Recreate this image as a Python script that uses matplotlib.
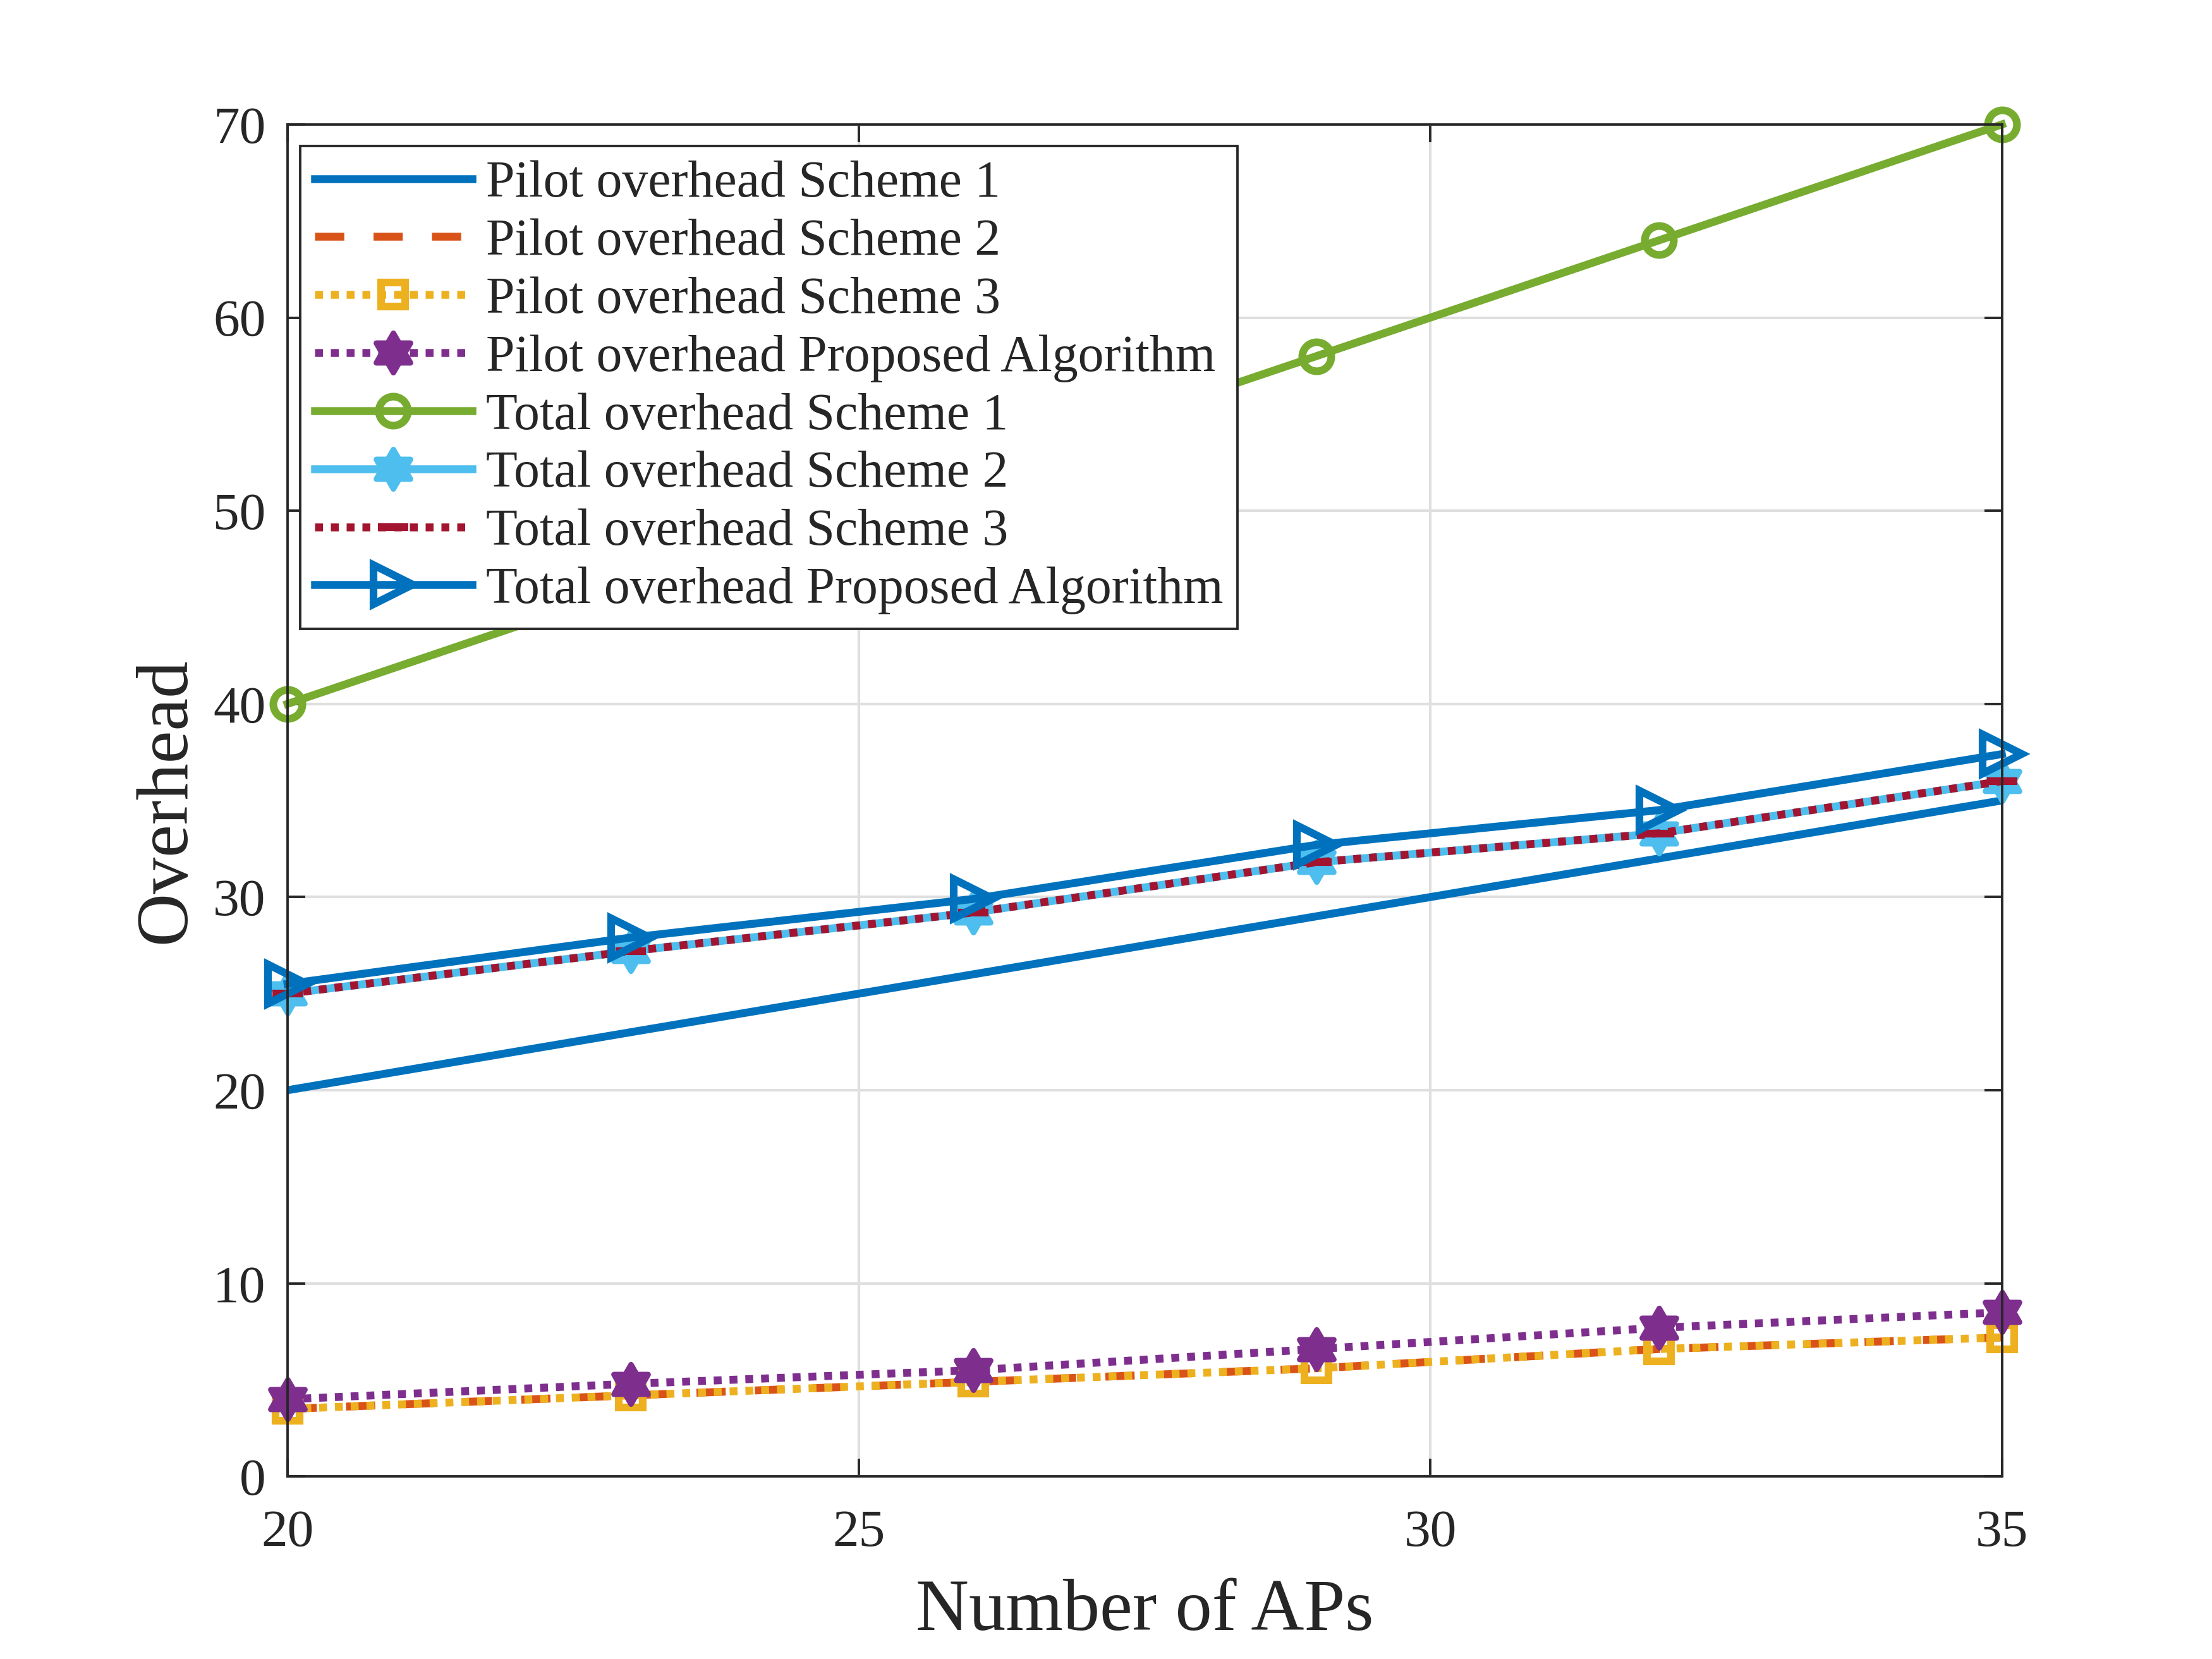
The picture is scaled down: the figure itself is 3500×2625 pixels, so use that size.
import matplotlib
matplotlib.use('Agg')
import matplotlib.pyplot as plt
import numpy as np
from matplotlib.path import Path

# data
numAPs = [20, 23, 26, 29, 32, 35]
pilotScheme1 = [20, 23, 26, 29, 32, 35]
pilotScheme2 = [3.5, 4.2, 4.9, 5.6, 6.6, 7.2]
pilotScheme3 = [3.5, 4.2, 4.9, 5.6, 6.6, 7.2]
pilotProposed = [4.0, 4.8, 5.5, 6.6, 7.7, 8.5]
totalScheme1 = [40, 46, 52, 58, 64, 70]
totalScheme2 = [25.0, 27.2, 29.2, 31.8, 33.3, 36.0]
totalScheme3 = [25.0, 27.2, 29.2, 31.8, 33.3, 36.0]
totalProposed = [25.5, 27.9, 29.9, 32.7, 34.5, 37.4]

labels = ['Pilot overhead Scheme 1', 'Pilot overhead Scheme 2',
          'Pilot overhead Scheme 3', 'Pilot overhead Proposed Algorithm',
          'Total overhead Scheme 1', 'Total overhead Scheme 2',
          'Total overhead Scheme 3', 'Total overhead Proposed Algorithm']

# MATLAB-like hexagram marker
aOut = np.deg2rad(90 + 60 * np.arange(6))
aIn = aOut + np.deg2rad(30)
rIn = 1 / np.sqrt(3)
verts = []
for a, b in zip(aOut, aIn):
    verts.append((np.cos(a), np.sin(a)))
    verts.append((rIn * np.cos(b), rIn * np.sin(b)))
verts.append(verts[0])
hexagram = Path(verts, closed=True)

plt.rcParams['font.family'] = ['Liberation Serif', 'DejaVu Serif']
dark = '#262626'

fig = plt.figure(figsize=(14, 10.5), dpi=250)
ax = fig.add_axes([0.13, 0.11, 0.775, 0.815])

lw = 3.6
mew = 3.5
dot = (0, (1, 1))
dash = (0, (3.7, 3.7))

ax.plot(numAPs, pilotScheme1, color='#0072BD', lw=lw, ls='-', label=labels[0])
ax.plot(numAPs, pilotScheme2, color='#D95319', lw=lw, ls=dash, label=labels[1])
ax.plot(numAPs, pilotScheme3, color='#EDB120', lw=lw, ls=dot, marker='s',
        ms=11.2, mew=mew, mfc='none', label=labels[2], clip_on=False)
ax.plot(numAPs, pilotProposed, color='#7E2F8E', lw=lw, ls=dot, marker=hexagram,
        ms=18, mew=2.5, label=labels[3], clip_on=False)
ax.plot(numAPs, totalScheme1, color='#77AC30', lw=lw, ls='-', marker='o',
        ms=13.2, mew=mew, mfc='none', label=labels[4], clip_on=False)
ax.plot(numAPs, totalScheme2, color='#4DBEEE', lw=lw, ls='-', marker=hexagram,
        ms=18, mew=2.5, label=labels[5], clip_on=False)
ax.plot(numAPs, totalScheme3, color='#A2142F', lw=lw, ls=dot, marker='_',
        ms=14, mew=mew, label=labels[6], clip_on=False)
ax.plot(numAPs, totalProposed, color='#0072BD', lw=lw, ls='-', marker='>',
        ms=18, mew=mew, mfc='none', label=labels[7], clip_on=False)

ax.set_xlim(20, 35)
ax.set_ylim(0, 70)
ax.set_xticks([20, 25, 30, 35])
ax.set_yticks(np.arange(0, 71, 10))
ax.grid(True, color='#dfdfdf', lw=1.2)
ax.set_axisbelow(True)

for s in ax.spines.values():
    s.set_linewidth(1.1)
    s.set_color(dark)
ax.tick_params(direction='in', length=8, width=1.1, top=True, right=True,
               color=dark, labelcolor=dark, labelsize=24)
ax.tick_params(axis='x', pad=15)
ax.tick_params(axis='y', pad=10)

ax.set_xlabel('Number of APs', fontsize=33.5, color=dark)
ax.xaxis.label.set_va('baseline')
ax.xaxis.set_label_coords(0.5, -0.1134)
ax.set_ylabel('Overhead', fontsize=33.5, color=dark)
ax.yaxis.label.set_va('baseline')
ax.yaxis.set_label_coords(-0.0601, 0.5)

leg = ax.legend(loc='upper left', bbox_to_anchor=(0.0074, 0.9841),
                borderaxespad=0, fontsize=23.5, handlelength=3.05,
                handletextpad=0.27, borderpad=0.28, labelspacing=0.2,
                numpoints=1, fancybox=False, framealpha=1, edgecolor=dark)
leg.get_frame().set_linewidth(1.1)
for t in leg.get_texts():
    t.set_color(dark)

fig.savefig('out.png', dpi=250)
